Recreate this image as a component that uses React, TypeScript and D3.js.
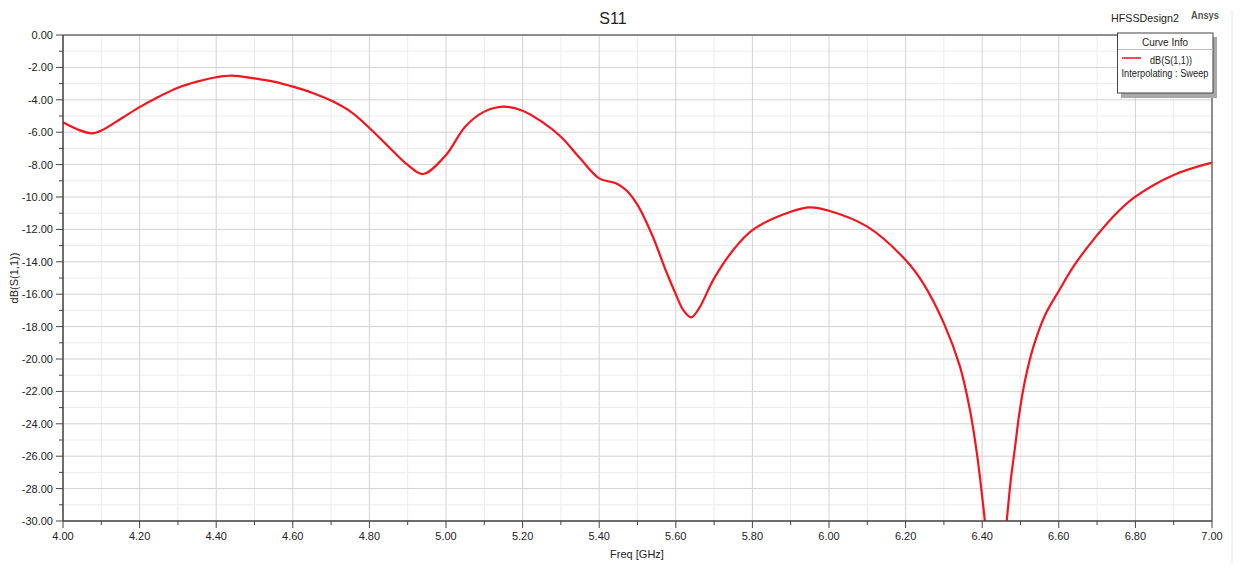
import React from "react";
import * as d3 from "d3";

const freqs = [4.0, 4.04, 4.075, 4.1, 4.153, 4.2, 4.25, 4.3, 4.35, 4.4, 4.44, 4.5, 4.55, 4.6, 4.65, 4.7, 4.75, 4.8, 4.85, 4.9, 4.94, 5.0, 5.05, 5.1, 5.15, 5.2, 5.25, 5.3, 5.35, 5.4, 5.445, 5.47, 5.5, 5.54, 5.575, 5.6, 5.62, 5.64, 5.66, 5.7, 5.75, 5.8, 5.9, 5.95, 6.0, 6.1, 6.2, 6.246, 6.3, 6.342, 6.368, 6.386, 6.399, 6.407, 6.42, 6.435, 6.45, 6.464, 6.475, 6.486, 6.497, 6.512, 6.533, 6.564, 6.6, 6.638, 6.69, 6.755, 6.8, 6.9, 7.0];
const s11dB = [-5.39, -5.85, -6.07, -5.9, -5.14, -4.45, -3.81, -3.25, -2.88, -2.61, -2.51, -2.68, -2.88, -3.19, -3.56, -4.05, -4.72, -5.74, -6.9, -8.02, -8.58, -7.41, -5.66, -4.73, -4.42, -4.67, -5.35, -6.28, -7.61, -8.85, -9.16, -9.57, -10.49, -12.45, -14.6, -16.0, -17.0, -17.43, -16.9, -15.02, -13.27, -12.04, -10.91, -10.64, -10.85, -11.83, -13.89, -15.33, -17.8, -20.47, -23.15, -25.8, -28.3, -30.0, -33.0, -36.0, -33.5, -30.0, -27.4, -25.4, -23.35, -21.3, -19.3, -17.3, -15.8, -14.3, -12.65, -10.9, -9.98, -8.64, -7.88];

const xMajorTicks = d3.range(0, 16).map((i) => 4 + i * 0.2);
const xMinorTicks = d3.range(0, 31).map((i) => 4 + i * 0.1);
const yMajorTicks = d3.range(0, 16).map((i) => -i * 2);
const yMinorTicks = d3.range(0, 31).map((i) => -i);

const W = 1256;
const H = 572;
const left = 63;
const right = 1212;
const top = 35;
const bottom = 521;
const FONT = "'Liberation Sans', Arial, sans-serif";

export default function App() {
  const x = d3.scaleLinear().domain([4, 7]).range([left, right]);
  const y = d3.scaleLinear().domain([-30, 0]).range([bottom, top]);
  const data = freqs.map((f, i) => [f, s11dB[i]] as [number, number]);
  const line = d3
    .line<[number, number]>()
    .x((d) => x(d[0]))
    .y((d) => y(d[1]))
    .curve(d3.curveCatmullRom.alpha(0.5));

  const isMajorX = (v: number) => Math.abs(Math.round(v * 10) % 2) === 0;
  const isMajorY = (v: number) => Math.abs(Math.round(v)) % 2 === 0;

  return (
    <svg
      width={W}
      height={H}
      style={{ position: "absolute", left: 0, top: 0, background: "#fff" }}
      fontFamily={FONT}
    >
      <rect x={0} y={0} width={W} height={H} fill="#fff" />
      <line x1={1232} x2={1232} y1={10} y2={563} stroke="#e6e6e6" strokeWidth={1} />
      {xMinorTicks.filter((v) => !isMajorX(v)).map((v, i) => (
        <line key={"xm" + i} x1={x(v)} x2={x(v)} y1={top} y2={bottom} stroke="#ececec" strokeWidth={1} />
      ))}
      {yMinorTicks.filter((v) => !isMajorY(v)).map((v, i) => (
        <line key={"ym" + i} x1={left} x2={right} y1={y(v)} y2={y(v)} stroke="#ececec" strokeWidth={1} />
      ))}
      {xMajorTicks.map((v, i) => (
        <line key={"xg" + i} x1={x(v)} x2={x(v)} y1={top} y2={bottom} stroke="#d2d2d2" strokeWidth={1} />
      ))}
      {yMajorTicks.map((v, i) => (
        <line key={"yg" + i} x1={left} x2={right} y1={y(v)} y2={y(v)} stroke="#d2d2d2" strokeWidth={1} />
      ))}
      <defs>
        <clipPath id="plotclip">
          <rect x={left} y={top} width={right - left} height={bottom - top} />
        </clipPath>
      </defs>
      <path d={line(data) || ""} fill="none" stroke="#f5141e" strokeWidth={2.2} clipPath="url(#plotclip)" />
      <line x1={left} x2={right} y1={top} y2={top} stroke="#6e6e6e" strokeWidth={1.5} />
      <line x1={right} x2={right} y1={top} y2={bottom} stroke="#6e6e6e" strokeWidth={1.5} />
      <line x1={left} x2={right} y1={bottom} y2={bottom} stroke="#444" strokeWidth={1.5} />
      <line x1={left} x2={left} y1={top} y2={bottom} stroke="#444" strokeWidth={1.5} />
      {yMinorTicks.map((v, i) => (
        <line key={"yt" + i} x1={left - (isMajorY(v) ? 7 : 4)} x2={left} y1={y(v)} y2={y(v)} stroke="#444" strokeWidth={1} />
      ))}
      {yMajorTicks.map((v, i) => (
        <text key={"yl" + i} x={left - 10} y={y(v) + 4} fontSize={11} textAnchor="end" fill="#222">
          {v.toFixed(2)}
        </text>
      ))}
      {xMinorTicks.map((v, i) => (
        <line key={"xt" + i} x1={x(v)} x2={x(v)} y1={bottom} y2={bottom + (isMajorX(v) ? 7 : 4)} stroke="#444" strokeWidth={1} />
      ))}
      {xMajorTicks.map((v, i) => (
        <text key={"xl" + i} x={x(v)} y={540} fontSize={11} textAnchor="middle" fill="#222">
          {v.toFixed(2)}
        </text>
      ))}
      <text x={613} y={24} fontSize={16} textAnchor="middle" fill="#222">S11</text>
      <text x={1111} y={22} fontSize={11.5} fill="#222" textLength={68} lengthAdjust="spacingAndGlyphs">HFSSDesign2</text>
      <text x={1191} y={19} fontSize={10.5} fontWeight="bold" fill="#555" textLength={28} lengthAdjust="spacingAndGlyphs">Ansys</text>
      <text x={637} y={558} fontSize={11} textAnchor="middle" fill="#222">Freq [GHz]</text>
      <text
        transform={`translate(18, ${(top + bottom) / 2}) rotate(-90)`}
        fontSize={11}
        textAnchor="middle"
        fill="#222"
      >
        dB(S(1,1))
      </text>
      <rect x={1121} y={37} width={96} height={61} fill="#a8a8a8" />
      <rect x={1117.5} y={33} width={95.5} height={60} fill="#fff" stroke="#444" strokeWidth={1} />
      <line x1={1118} x2={1213} y1={49.5} y2={49.5} stroke="#bbb" strokeWidth={1} />
      <text x={1165} y={46} fontSize={10} textAnchor="middle" fill="#222">Curve Info</text>
      <line x1={1122} x2={1141} y1={58} y2={58} stroke="#f5141e" strokeWidth={1.5} />
      <text x={1150} y={64} fontSize={10} fill="#222" textLength={42} lengthAdjust="spacingAndGlyphs">dB(S(1,1))</text>
      <text x={1121.5} y={77} fontSize={10} fill="#222" textLength={87} lengthAdjust="spacingAndGlyphs">Interpolating : Sweep</text>
    </svg>
  );
}
